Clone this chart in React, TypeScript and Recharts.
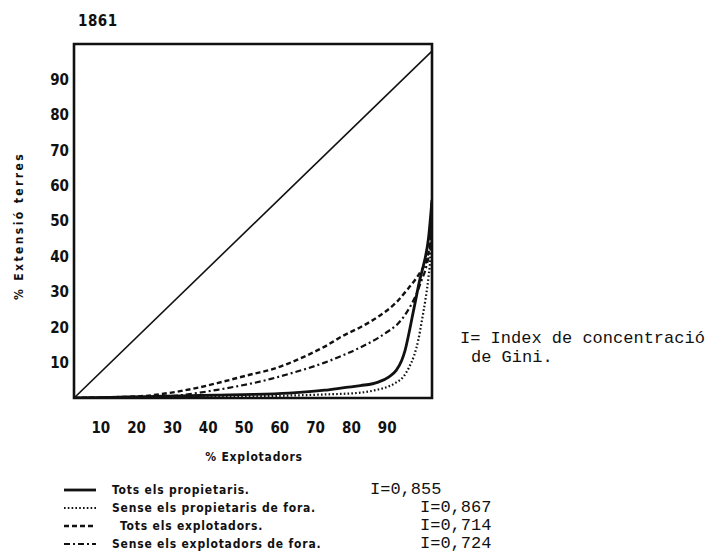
import { LineChart, Line, XAxis, YAxis, ReferenceArea } from "recharts";

const X_TICKS = [10, 20, 30, 40, 50, 60, 70, 80, 90];
const Y_TICKS = [10, 20, 30, 40, 50, 60, 70, 80, 90];

// line of equality
const EQUALITY_X = [0, 100];
const EQUALITY_Y = [0, 98];

// Tots els propietaris
const PROP_X = [0, 10, 20, 30, 40, 50, 60, 70, 76, 80, 85, 88, 90, 91.5, 92.5, 93.5, 94.5, 95.5, 96.5, 97.5, 99, 100];
const PROP_Y = [0, 0.2, 0.4, 0.6, 0.8, 1.0, 1.4, 2.2, 3.0, 3.5, 4.5, 6, 7.8, 10.5, 13.5, 18, 23, 28, 33, 37, 45, 56];

// Sense els propietaris de fora
const PROP_IN_X = [0, 20, 40, 52, 60, 70, 80, 85, 88, 90, 92, 93.5, 95, 96.2, 97.2, 98.2, 99, 99.6, 100];
const PROP_IN_Y = [0, 0.1, 0.3, 0.5, 0.7, 1.0, 1.5, 2.4, 3.3, 4.4, 6, 8.5, 12, 16.5, 22, 28, 34, 41, 56];

// Tots els explotadors
const EXPL_X = [0, 10, 20, 25, 30, 35, 40, 45, 50, 55, 60, 65, 70, 75, 80, 85, 90, 93, 95, 97, 98.5, 99.5, 100];
const EXPL_Y = [0, 0.2, 0.6, 1.2, 2.0, 3.0, 4.2, 5.5, 6.8, 8.0, 9.8, 12, 14.5, 17.5, 20, 23, 27, 30.5, 33, 36, 39, 45, 56];

// Sense els explotadors de fora
const EXPL_IN_X = [0, 20, 30, 35, 40, 45, 50, 55, 60, 65, 70, 75, 80, 85, 88, 90, 92, 94, 95.5, 97, 98.5, 99.5, 100];
const EXPL_IN_Y = [0, 0.2, 0.8, 1.5, 2.3, 3.2, 4.2, 5.4, 6.8, 8.3, 10, 12, 14.3, 17, 19, 20.5, 22.8, 26, 29, 33, 37.5, 43, 56];

const INK = "#111";

const SERIES = [
  { name: "Tots els propietaris.", gini: "I=0,855", xs: PROP_X, ys: PROP_Y, width: 2.8, dash: undefined as string | undefined },
  { name: "Sense els propietaris de fora.", gini: "I=0,867", xs: PROP_IN_X, ys: PROP_IN_Y, width: 2.2, dash: "1.6 2.2" },
  { name: "Tots els explotadors.", gini: "I=0,714", xs: EXPL_X, ys: EXPL_Y, width: 2.4, dash: "5 3" },
  { name: "Sense els explotadors de fora.", gini: "I=0,724", xs: EXPL_IN_X, ys: EXPL_IN_Y, width: 2.2, dash: "6 3 2 3" },
];

function zip(xs: number[], ys: number[]) {
  return xs.map((x, i) => ({ x, y: ys[i] }));
}

const TICK_FONT = "'DejaVu Sans Condensed', 'Liberation Sans Narrow', 'DejaVu Sans', sans-serif";
const MONO = "'Liberation Mono', 'DejaVu Sans Mono', monospace";

const XTick = ({ x, y, payload }: any) => (
  <text x={x - 9} y={y + 27} textAnchor="middle" fill={INK} fontFamily={TICK_FONT} fontWeight="bold" fontSize={15}>
    {payload.value}
  </text>
);

const YTick = ({ x, y, payload }: any) => (
  <text x={x + 3} y={y} dy="0.36em" textAnchor="end" fill={INK} fontFamily={TICK_FONT} fontWeight="bold" fontSize={15}>
    {payload.value}
  </text>
);

const smallBold: React.CSSProperties = {
  position: "absolute",
  fontFamily: TICK_FONT,
  fontWeight: "bold",
  fontSize: 12,
  letterSpacing: 0.8,
  color: INK,
  whiteSpace: "nowrap",
  lineHeight: 1,
};

const mono: React.CSSProperties = {
  ...smallBold,
  fontFamily: MONO,
  fontWeight: "normal",
  fontSize: 17,
  letterSpacing: 0,
};

export default function App() {
  return (
    <div style={{ position: "absolute", left: 0, top: 0, width: 715, height: 560, background: "#fff", overflow: "hidden" }}>
      <LineChart width={715} height={560} margin={{ top: 44, right: 283, bottom: 122, left: 0 }}>
        <XAxis type="number" dataKey="x" domain={[0, 100]} ticks={X_TICKS} allowDataOverflow height={40}
          axisLine={false} tickLine={false} tick={<XTick />} />
        <YAxis type="number" dataKey="y" domain={[0, 100]} ticks={Y_TICKS} allowDataOverflow width={74}
          axisLine={false} tickLine={false} tick={<YTick />} />
        <ReferenceArea x1={0} x2={100} y1={0} y2={100} fill="none" fillOpacity={0} stroke={INK} strokeWidth={2.6} ifOverflow="visible" />
        <Line data={zip(EQUALITY_X, EQUALITY_Y)} dataKey="y" type="linear" stroke={INK} strokeWidth={1.6}
          dot={false} activeDot={false} isAnimationActive={false} />
        {SERIES.map((s) => (
          <Line key={s.name} data={zip(s.xs, s.ys)} dataKey="y" type="monotone" stroke={INK}
            strokeWidth={s.width} strokeDasharray={s.dash} dot={false} activeDot={false} isAnimationActive={false} />
        ))}
      </LineChart>

      <div style={{ ...smallBold, left: 78, top: 14, fontSize: 15, letterSpacing: 0.5 }}>1861</div>

      <div style={{ ...smallBold, left: 19, top: 226, letterSpacing: 2.4, transform: "translate(-50%, -50%) rotate(-90deg)" }}>
        % Extensió  terres
      </div>

      <div style={{ ...smallBold, left: 254, top: 451, transform: "translateX(-50%)" }}>% Explotadors</div>

      {SERIES.map((s, i) => (
        <div key={s.name}>
          <svg style={{ position: "absolute", left: 64, top: 485 + i * 18 }} width={32} height={10}>
            <line x1={0} y1={5} x2={32} y2={5} stroke={INK} strokeWidth={s.width} strokeDasharray={s.dash} />
          </svg>
          <div style={{ ...smallBold, left: i === 2 ? 120 : 112, top: 484 + i * 18 }}>{s.name}</div>
          <div style={{ ...mono, left: i === 0 ? 370 : 420, top: 481 + i * 18 }}>{s.gini}</div>
        </div>
      ))}

      <div style={{ ...mono, left: 460, top: 330 }}>I= Index de concentració</div>
      <div style={{ ...mono, left: 471, top: 349 }}>de Gini.</div>
    </div>
  );
}
